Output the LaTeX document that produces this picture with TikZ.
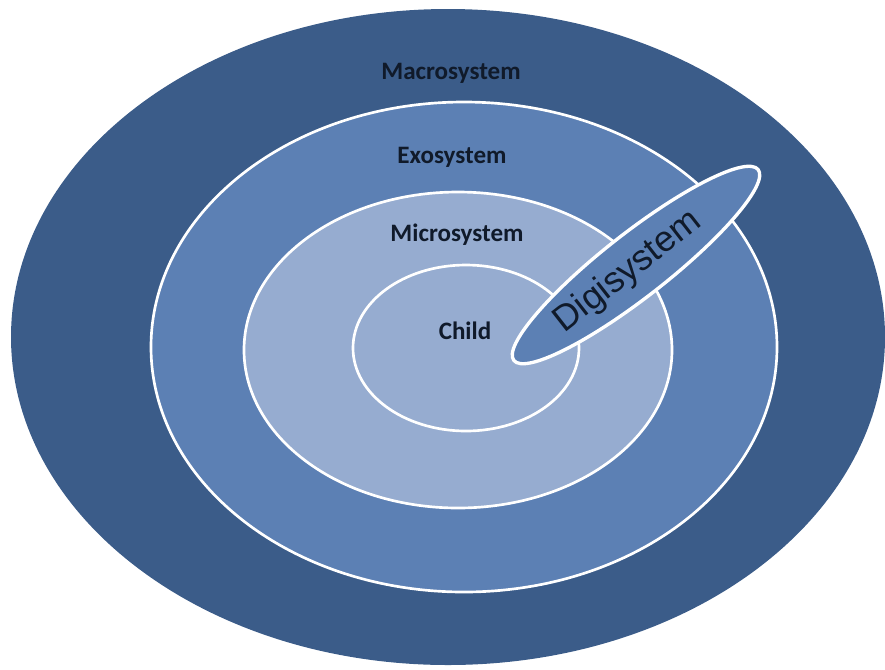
\documentclass[tikz,border=0pt]{standalone}
\usepackage{fontspec}
\setmainfont{Carlito}
\newfontfamily\digifont{Liberation Sans}
\usetikzlibrary{shapes.geometric}
\definecolor{macroblue}{HTML}{3B5C89}
\definecolor{exoblue}{HTML}{5C80B4}
\definecolor{microblue}{HTML}{96ACD0}
\definecolor{labelink}{HTML}{101A2A}

\begin{document}
\begin{tikzpicture}[x=0.75pt, y=-0.75pt, ring/.style = {ellipse, draw=white, line width=2pt, inner sep=0pt}, lbl/.style = {font=\fontsize{18.8}{21}\selectfont\bfseries, text=labelink}]
    \useasboundingbox (0,0) rectangle (885,669);
    % nested systems
    \node[ring, draw=none, fill=macroblue, minimum width=655.5pt, minimum height=492pt] (macro) at (448,337) {};
    \node[ring, fill=exoblue, minimum width=469.5pt, minimum height=367.5pt] (exo) at (464,347) {};
    \node[ring, fill=microblue, minimum width=321pt, minimum height=237pt] (micro) at (458,350) {};
    \node[ring, fill=microblue, minimum width=169.5pt, minimum height=124.5pt] (child) at (466,348) {};
    % labels
    \node[lbl] (macrolbl) at (451,73) {Macrosystem};
    \node[lbl] (exolbl) at (452,157) {Exosystem};
    \node[lbl] (microlbl) at (457,235) {Microsystem};
    \node[lbl] (childlbl) at (465,331) {Child};
    % digital layer
    \node[ring, line width=2.5pt, fill=exoblue, minimum width=232.5pt, minimum height=48pt, rotate=38] (digi) at (636,265) {};
    \node[font=\digifont\fontsize{27}{30}\selectfont, text=labelink, rotate=38, inner sep=0pt] (digilbl) at (628,272) {Digisystem};
\end{tikzpicture}
\end{document}
